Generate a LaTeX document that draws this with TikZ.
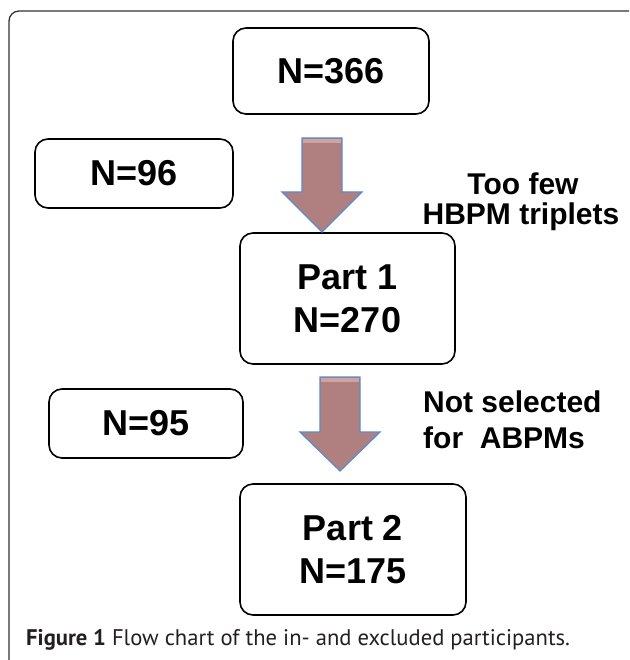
\documentclass[tikz,border=0pt]{standalone}
\usepackage{fontspec}
\setmainfont{Liberation Sans}
\newfontfamily\capfont{PT Sans}
\definecolor{framegray}{HTML}{333333}
\definecolor{arrowfill}{HTML}{B08080}
\definecolor{arrowlight}{HTML}{CDA3A3}
\definecolor{arrowedge}{HTML}{5B8BC8}
\definecolor{captext}{HTML}{231F20}
\begin{document}
\begin{tikzpicture}[x=1pt,y=-1pt,
  box/.style={draw=black, line width=1.6pt, rounded corners=13pt, fill=white,
    font=\bfseries\fontsize{36}{43}\selectfont, align=center, inner sep=0pt},
  sidetext/.style={font=\bfseries\fontsize{30}{36}\selectfont, inner sep=0pt},
  blockarrow/.style={fill=arrowfill, draw=arrowedge, line width=1.3pt, line join=miter},
  lightband/.style={fill=arrowlight, draw=none}]
\useasboundingbox (0,0) rectangle (629,660);
\begin{scope}
\clip (0,0) rectangle (629,660);
\draw[framegray, line width=1.3pt, rounded corners=10pt] (9,11) rectangle (640,675);
\end{scope}

% boxes
\node[box, minimum width=196pt, minimum height=86pt] (n366) at (331,71) {N=366};
\node[box, minimum width=198pt, minimum height=69pt] (n96) at (134,173.5) {N=96};
\node[box, minimum width=215pt, minimum height=131pt] (p1) at (347.5,298.5) {Part 1\\N=270};
\node[box, minimum width=194pt, minimum height=69pt] (n95) at (146,423.5) {N=95};
\node[box, minimum width=226pt, minimum height=131pt] (p2) at (353,549.5) {Part 2\\N=175};

% block arrows
\path[blockarrow] (302,138) -- (342,138) -- (342,192) -- (362,192) -- (322,232) -- (282,192) -- (302,192) -- cycle;
\path[lightband] (303,139) rectangle (341,143);
\path[blockarrow] (320,377) -- (360,377) -- (360,432) -- (380,432) -- (340,471) -- (300,432) -- (320,432) -- cycle;
\path[lightband] (321,378) rectangle (359,382);

% side texts
\node[sidetext, anchor=base] (t1) at (523,194) {Too few};
\node[sidetext, anchor=base] (t2) at (521,224) {HBPM triplets};
\node[sidetext, anchor=base west] (t3) at (423,412) {Not selected};
\node[sidetext, anchor=base west] (t4) at (423,448) {for\ \ ABPMs};

% caption
\node[anchor=base west, inner sep=0pt, text=captext, font=\capfont\fontsize{22.6}{27}\selectfont] (cap) at (26,645) {\textbf{Figure 1} Flow chart of the in- and excluded participants.};
\end{tikzpicture}
\end{document}
